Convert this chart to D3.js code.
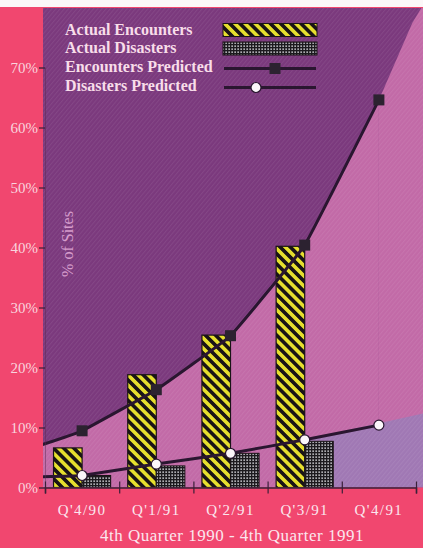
<!DOCTYPE html>
<html><head><meta charset="utf-8">
<script src="https://cdn.jsdelivr.net/npm/d3@7"></script>
<style>
html,body{margin:0;padding:0;background:#fff;}
svg{display:block;}
</style></head>
<body>
<script>
// ---- data ----
const categories = ["Q'4/90","Q'1/91","Q'2/91","Q'3/91","Q'4/91"];
const actualEncounters = [6.6, 18.8, 25.4, 40.2, null];
const actualDisasters  = [2.0, 3.6, 5.7, 7.7, null];
const encountersPredicted = [9.45, 16.3, 25.3, 40.4, 64.6];
const disastersPredicted  = [2.0, 3.9, 5.7, 7.95, 10.4];
const encountersLeadIn = 7.1;   // value where the fitted curve enters the plot
const disastersLeadIn  = 1.8;
const encountersRunOut = [ {i:4.45, v:77.4}, {i:4.6, v:80.5} ]; // background boundary beyond last point
const disastersRunOut  = 12.5;
const yTicks = [0,10,20,30,40,50,60,70];
const yTickLabels = ["0%","10%","20%","30%","40%","50%","60%","70%"];
const legendLabels = ["Actual Encounters","Actual Disasters","Encounters Predicted","Disasters Predicted"];
const xTitle = "4th Quarter 1990 - 4th Quarter 1991";
const yTitle = "% of Sites";

// ---- layout ----
const W = 423, H = 548;
const plotL = 43, plotR = 423, plotT = 8, plotB = 487.5;
const C = {
  frame:"#f1476f", dark:"#7b397d", mauve:"#c26aa7", lav:"#9c7ab6",
  ink:"#2a1630", yellow:"#e6df2e", text:"#f8dde9", ytext:"#d69ccc"
};
const serif = "Liberation Serif, 'Times New Roman', serif";

const svg = d3.select("body").append("svg").attr("width",W).attr("height",H);
const defs = svg.append("defs");

const x = d3.scaleLinear().domain([-0.5, 4.5]).range([45, 416]);
const y = d3.scaleLinear().domain([0, 70]).range([plotB, 67.5]);
const leftI = x.invert(plotL), rightI = x.invert(plotR);

// patterns
const sp = 7.2;
const pe = defs.append("pattern").attr("id","stripe").attr("patternUnits","userSpaceOnUse")
  .attr("width",sp).attr("height",sp).attr("patternTransform","rotate(-45)");
pe.append("rect").attr("width",sp).attr("height",sp).attr("fill",C.yellow);
pe.append("rect").attr("width",sp*0.5).attr("height",sp).attr("fill","#1a1416");

const pd = defs.append("pattern").attr("id","dots").attr("patternUnits","userSpaceOnUse")
  .attr("width",3).attr("height",3);
pd.append("rect").attr("width",3).attr("height",3).attr("fill","#1c1a1e");
pd.append("rect").attr("x",0.4).attr("y",0.4).attr("width",1.5).attr("height",1.5).attr("fill","#cfcfd4");

const pt = defs.append("pattern").attr("id","tex").attr("patternUnits","userSpaceOnUse")
  .attr("width",3.2).attr("height",3.2).attr("patternTransform","rotate(40)");
pt.append("rect").attr("width",1).attr("height",3.2).attr("fill","#ffffff");

defs.append("clipPath").attr("id","clip").append("rect")
  .attr("x",plotL).attr("y",plotT).attr("width",plotR-plotL).attr("height",plotB-plotT);

// frame
svg.append("rect").attr("x",0).attr("y",0).attr("width",W).attr("height",H).attr("fill",C.frame);
svg.append("rect").attr("x",0).attr("y",0).attr("width",W).attr("height",7).attr("fill","#fbf7f8");

const g = svg.append("g").attr("clip-path","url(#clip)");
g.append("rect").attr("x",plotL).attr("y",plotT).attr("width",plotR-plotL).attr("height",plotB-plotT).attr("fill",C.dark);

// point lists
const encPts = [{i:leftI - 0.02, v:encountersLeadIn}].concat(encountersPredicted.map((v,i)=>({i,v})));
const disPts = [{i:leftI - 0.02, v:disastersLeadIn}].concat(disastersPredicted.map((v,i)=>({i,v})));
const curve = d3.curveCardinal.tension(0.75);

// mauve area below the encounter curve
g.append("path").datum(encPts)
  .attr("d", d3.area().x(d=>x(d.i)).y0(y(0)).y1(d=>y(d.v)).curve(curve))
  .attr("fill",C.mauve);
const last = encPts[encPts.length-1];
const runPoly = [[x(last.i),y(last.v)]].concat(encountersRunOut.map(d=>[x(d.i),y(d.v)]))
  .concat([[x(rightI)+5,y(encountersRunOut[1].v)],[x(rightI)+5,y(0)],[x(last.i),y(0)]]);
g.append("path").attr("d","M"+runPoly.join("L")+"Z").attr("fill",C.mauve);

// lavender patch below disasters run-out
const d3i = 3;
const lavPoly = [[x(d3i),y(disastersPredicted[d3i])],[x(rightI)+5,y(disastersRunOut)],[x(rightI)+5,y(0)],[x(d3i),y(0)]];
g.append("path").attr("d","M"+lavPoly.join("L")+"Z").attr("fill",C.lav).attr("opacity",0.9);

// texture
g.append("rect").attr("x",plotL).attr("y",plotT).attr("width",plotR-plotL).attr("height",plotB-plotT)
  .attr("fill","url(#tex)").attr("opacity",0.07);

// bars
const bw = 0.385;
g.selectAll(".be").data(actualEncounters.map((v,i)=>({v,i})).filter(d=>d.v!=null)).enter().append("rect")
  .attr("x",d=>x(d.i-bw)).attr("width",d=>x(d.i)-x(d.i-bw))
  .attr("y",d=>y(d.v)).attr("height",d=>y(0)-y(d.v))
  .attr("fill","url(#stripe)").attr("stroke","#1a1416").attr("stroke-width",1.2);
g.selectAll(".bd").data(actualDisasters.map((v,i)=>({v,i})).filter(d=>d.v!=null)).enter().append("rect")
  .attr("x",d=>x(d.i)).attr("width",d=>x(d.i+bw)-x(d.i))
  .attr("y",d=>y(d.v)).attr("height",d=>y(0)-y(d.v))
  .attr("fill","url(#dots)").attr("stroke","#1a1416").attr("stroke-width",1);

// lines
const line = d3.line().x(d=>x(d.i)).y(d=>y(d.v)).curve(curve);
g.append("path").datum(encPts).attr("d",line).attr("fill","none").attr("stroke",C.ink).attr("stroke-width",3);
g.append("path").datum(disPts).attr("d",line).attr("fill","none").attr("stroke",C.ink).attr("stroke-width",3);
g.selectAll(".sq").data(encountersPredicted).enter().append("rect")
  .attr("x",(d,i)=>x(i)-5.5).attr("y",d=>y(d)-5.5).attr("width",11).attr("height",11)
  .attr("fill","#2c2230");
g.selectAll(".ci").data(disastersPredicted).enter().append("circle")
  .attr("cx",(d,i)=>x(i)).attr("cy",d=>y(d)).attr("r",5)
  .attr("fill","#fbf6fa").attr("stroke",C.ink).attr("stroke-width",1.2);

// axes
const yAxis = d3.axisLeft(y).tickValues(yTicks).tickFormat((d,i)=>yTickLabels[i]).tickSize(6).tickPadding(1);
const ya = svg.append("g").attr("transform",`translate(${plotL+2},0)`).call(yAxis);
ya.select(".domain").attr("stroke","#5a2a50").attr("stroke-width",0.8).attr("opacity",0.6);
ya.selectAll(".tick line").attr("stroke","#3a2038").attr("stroke-width",1.2);
ya.selectAll(".tick text").attr("fill","#f9d4de").attr("font-family",serif)
  .attr("font-size",15).attr("font-weight","normal");

const xAxis = d3.axisBottom(x).tickValues([-0.5,0.5,1.5,2.5,3.5,4.5]).tickFormat("").tickSize(6);
const xa = svg.append("g").attr("transform",`translate(0,${plotB})`).call(xAxis);
xa.select(".domain").attr("stroke","#3a2038").attr("stroke-width",1.5);
xa.selectAll(".tick line").attr("stroke","#3a2038").attr("stroke-width",1.2).attr("y1",-6);

svg.selectAll(".xl").data(categories).enter().append("text")
  .attr("x",(d,i)=>x(i)).attr("y",515).attr("text-anchor","middle")
  .attr("font-family",serif).attr("font-size",15).attr("letter-spacing",1.4).attr("fill","#fbe6ee")
  .text(d=>d);
svg.append("text").attr("x",232).attr("y",541).attr("text-anchor","middle")
  .attr("font-family",serif).attr("font-size",17).attr("letter-spacing",0.5).attr("fill","#fbe6ee")
  .text(xTitle);
svg.append("text").attr("transform",`translate(73,244) rotate(-90)`).attr("text-anchor","middle")
  .attr("font-family",serif).attr("font-size",16).attr("fill",C.ytext)
  .text(yTitle);

// legend
const lg = svg.append("g");
const ly = [35, 53, 72, 91];
lg.selectAll("text").data(legendLabels).enter().append("text")
  .attr("x",65).attr("y",(d,i)=>ly[i])
  .attr("font-family",serif).attr("font-size",16).attr("font-weight","bold")
  .attr("fill",C.text).text(d=>d);
lg.append("rect").attr("x",223).attr("y",23.5).attr("width",94).attr("height",13)
  .attr("fill","url(#stripe)").attr("stroke","#1a1416").attr("stroke-width",1);
lg.append("rect").attr("x",223).attr("y",42).attr("width",94).attr("height",13)
  .attr("fill","url(#dots)").attr("stroke","#1a1416").attr("stroke-width",1);
lg.append("line").attr("x1",224).attr("x2",316).attr("y1",68.5).attr("y2",68.5).attr("stroke",C.ink).attr("stroke-width",3);
lg.append("rect").attr("x",269.5).attr("y",63).attr("width",11).attr("height",11).attr("fill","#2c2230");
lg.append("line").attr("x1",224).attr("x2",316).attr("y1",87.5).attr("y2",87.5).attr("stroke",C.ink).attr("stroke-width",3);
lg.append("circle").attr("cx",256).attr("cy",87.5).attr("r",5).attr("fill","#fbf6fa").attr("stroke",C.ink).attr("stroke-width",1.2);
</script>
</body></html>
